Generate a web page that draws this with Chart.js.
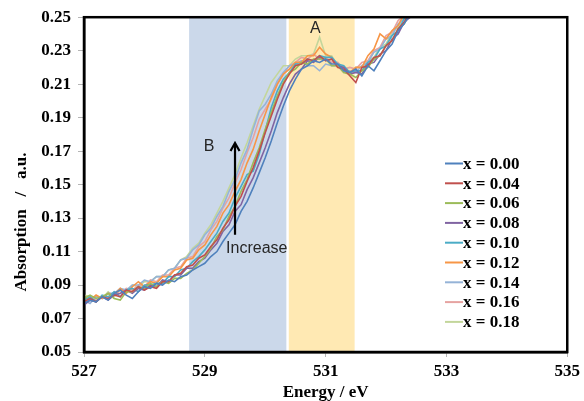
<!DOCTYPE html>
<html>
<head>
<meta charset="utf-8">
<script src="https://cdn.jsdelivr.net/npm/chart.js@4.4.1/dist/chart.umd.min.js"></script>
<style>
  html, body { margin: 0; padding: 0; background: #fff; }
  #wrap { width: 584px; height: 401px; }
</style>
</head>
<body>
<div id="wrap"><canvas id="absChart" width="584" height="401"></canvas></div>
<script>
// energy grid (eV)
const energy = [
    527.0, 527.1, 527.2, 527.3, 527.4, 527.5, 527.6, 527.7, 527.8, 527.9,
    528.0, 528.1, 528.2, 528.3, 528.4, 528.5, 528.6, 528.7, 528.8, 528.9,
    529.0, 529.1, 529.2, 529.3, 529.4, 529.5, 529.6, 529.7, 529.8, 529.9,
    530.0, 530.1, 530.2, 530.3, 530.4, 530.5, 530.6, 530.7, 530.8, 530.9,
    531.0, 531.1, 531.2, 531.3, 531.4, 531.5, 531.6, 531.7, 531.8, 531.9,
    532.0, 532.1, 532.2, 532.3, 532.4, 532.5
];

const labels = ['x = 0.00', 'x = 0.04', 'x = 0.06', 'x = 0.08', 'x = 0.10', 'x = 0.12', 'x = 0.14', 'x = 0.16', 'x = 0.18'];
const colors = ['#4F81BD', '#C0504D', '#9BBB59', '#8064A2', '#4BACC6', '#F79646', '#95B3D7', '#E6A3A1', '#C3D69B'];

const x000 = [
    0.079, 0.081, 0.080, 0.083, 0.081, 0.085, 0.087, 0.084, 0.082, 0.086,
    0.089, 0.088, 0.091, 0.090, 0.093, 0.092, 0.095, 0.096, 0.099, 0.101,
    0.103, 0.107, 0.110, 0.116, 0.121, 0.126, 0.134, 0.140, 0.148, 0.157,
    0.166, 0.176, 0.187, 0.197, 0.206, 0.213, 0.219, 0.221, 0.224, 0.223,
    0.225, 0.222, 0.222, 0.218, 0.217, 0.219, 0.215, 0.221, 0.218, 0.224,
    0.230, 0.234, 0.242, 0.246, 0.252, 0.256
];
const x004 = [
    0.080, 0.082, 0.080, 0.083, 0.082, 0.084, 0.083, 0.087, 0.086, 0.089,
    0.087, 0.089, 0.088, 0.092, 0.092, 0.096, 0.097, 0.101, 0.102, 0.106,
    0.108, 0.113, 0.117, 0.124, 0.129, 0.137, 0.143, 0.152, 0.160, 0.170,
    0.181, 0.191, 0.201, 0.210, 0.216, 0.221, 0.222, 0.225, 0.224, 0.227,
    0.224, 0.225, 0.220, 0.219, 0.215, 0.211, 0.220, 0.221, 0.226, 0.227,
    0.233, 0.236, 0.243, 0.247, 0.253, 0.257
];
const x006 = [
    0.082, 0.084, 0.082, 0.083, 0.085, 0.082, 0.081, 0.086, 0.086, 0.089,
    0.088, 0.091, 0.089, 0.092, 0.091, 0.094, 0.094, 0.097, 0.099, 0.103,
    0.107, 0.112, 0.119, 0.123, 0.131, 0.137, 0.146, 0.153, 0.163, 0.172,
    0.183, 0.193, 0.203, 0.211, 0.217, 0.219, 0.223, 0.222, 0.225, 0.225,
    0.225, 0.221, 0.221, 0.217, 0.216, 0.214, 0.218, 0.220, 0.225, 0.227,
    0.233, 0.236, 0.243, 0.246, 0.253, 0.257
];
const x008 = [
    0.078, 0.081, 0.080, 0.083, 0.081, 0.084, 0.085, 0.087, 0.085, 0.088,
    0.087, 0.090, 0.089, 0.093, 0.092, 0.096, 0.096, 0.100, 0.100, 0.104,
    0.106, 0.111, 0.115, 0.122, 0.126, 0.134, 0.138, 0.147, 0.154, 0.163,
    0.172, 0.182, 0.193, 0.202, 0.210, 0.216, 0.219, 0.224, 0.223, 0.226,
    0.224, 0.225, 0.221, 0.220, 0.216, 0.217, 0.216, 0.222, 0.223, 0.228,
    0.230, 0.237, 0.240, 0.247, 0.250, 0.256
];
const x010 = [
    0.081, 0.083, 0.080, 0.084, 0.083, 0.086, 0.083, 0.087, 0.088, 0.086,
    0.090, 0.090, 0.091, 0.091, 0.095, 0.095, 0.099, 0.100, 0.104, 0.107,
    0.111, 0.116, 0.121, 0.128, 0.133, 0.142, 0.149, 0.156, 0.158, 0.168,
    0.182, 0.196, 0.206, 0.213, 0.217, 0.222, 0.222, 0.225, 0.224, 0.227,
    0.226, 0.226, 0.222, 0.221, 0.217, 0.218, 0.218, 0.223, 0.225, 0.231,
    0.233, 0.239, 0.242, 0.249, 0.252, 0.258
];
const x012 = [
    0.083, 0.081, 0.084, 0.082, 0.085, 0.084, 0.088, 0.085, 0.089, 0.092,
    0.089, 0.092, 0.091, 0.095, 0.095, 0.099, 0.100, 0.105, 0.106, 0.111,
    0.114, 0.120, 0.125, 0.133, 0.138, 0.146, 0.153, 0.163, 0.171, 0.182,
    0.192, 0.202, 0.210, 0.216, 0.219, 0.223, 0.223, 0.227, 0.227, 0.232,
    0.228, 0.226, 0.220, 0.220, 0.217, 0.220, 0.220, 0.227, 0.231, 0.240,
    0.237, 0.242, 0.245, 0.252, 0.255, 0.260
];
const x014 = [
    0.081, 0.079, 0.083, 0.082, 0.085, 0.085, 0.088, 0.087, 0.090, 0.090,
    0.093, 0.092, 0.095, 0.095, 0.099, 0.100, 0.105, 0.106, 0.111, 0.114,
    0.120, 0.124, 0.131, 0.137, 0.146, 0.153, 0.163, 0.171, 0.183, 0.194,
    0.198, 0.204, 0.212, 0.217, 0.221, 0.222, 0.224, 0.221, 0.221, 0.218,
    0.222, 0.221, 0.221, 0.217, 0.218, 0.217, 0.221, 0.223, 0.229, 0.231,
    0.237, 0.239, 0.246, 0.249, 0.256, 0.259
];
const x016 = [
    0.080, 0.082, 0.081, 0.083, 0.082, 0.086, 0.085, 0.088, 0.087, 0.090,
    0.089, 0.093, 0.092, 0.096, 0.096, 0.100, 0.101, 0.106, 0.107, 0.113,
    0.116, 0.123, 0.128, 0.136, 0.142, 0.151, 0.159, 0.169, 0.178, 0.189,
    0.195, 0.201, 0.210, 0.216, 0.221, 0.223, 0.226, 0.225, 0.228, 0.225,
    0.226, 0.223, 0.223, 0.219, 0.220, 0.219, 0.223, 0.224, 0.230, 0.232,
    0.239, 0.241, 0.248, 0.251, 0.258, 0.261
];
const x018 = [
    0.084, 0.083, 0.083, 0.082, 0.086, 0.083, 0.087, 0.086, 0.090, 0.089,
    0.092, 0.092, 0.095, 0.095, 0.099, 0.100, 0.105, 0.107, 0.112, 0.115,
    0.121, 0.126, 0.133, 0.140, 0.148, 0.156, 0.166, 0.175, 0.185, 0.195,
    0.203, 0.211, 0.216, 0.221, 0.221, 0.225, 0.227, 0.227, 0.228, 0.238,
    0.227, 0.227, 0.221, 0.220, 0.216, 0.220, 0.220, 0.224, 0.226, 0.232,
    0.234, 0.241, 0.244, 0.251, 0.254, 0.260
];
const series = [x000, x004, x006, x008, x010, x012, x014, x016, x018];

// shaded energy windows
const bands = [
    { from: 528.74, to: 530.35, color: '#CBD8EA' },
    { from: 530.39, to: 531.48, color: '#FFE9B3' }
];

document.addEventListener('DOMContentLoaded', () => {
    Chart.defaults.font.family = '"Liberation Serif", "Times New Roman", serif';
    Chart.defaults.color = '#000';

    const decor = {
        id: 'decor',
        beforeDatasetsDraw(chart) {
            const { ctx, chartArea: a, scales: { x } } = chart;
            ctx.save();
            bands.forEach(b => {
                const x0 = x.getPixelForValue(b.from);
                const x1 = x.getPixelForValue(b.to);
                ctx.fillStyle = b.color;
                ctx.fillRect(x0, a.top, x1 - x0, a.bottom - a.top);
            });
            ctx.restore();
        },
        afterDatasetsDraw(chart) {
            const { ctx, chartArea: a, scales: { x, y } } = chart;
            ctx.save();

            // frame
            ctx.strokeStyle = '#000';
            ctx.lineWidth = 2.5;
            ctx.strokeRect(a.left, a.top, a.right - a.left, a.bottom - a.top);

            // arrow
            const ax = x.getPixelForValue(529.5);
            const ay0 = y.getPixelForValue(0.120);
            const ay1 = y.getPixelForValue(0.1748);
            ctx.lineWidth = 2.2;
            ctx.beginPath();
            ctx.moveTo(ax, ay0);
            ctx.lineTo(ax, ay1);
            ctx.moveTo(ax - 4.5, ay1 + 8);
            ctx.lineTo(ax, ay1);
            ctx.lineTo(ax + 4.5, ay1 + 8);
            ctx.stroke();

            // annotations
            ctx.fillStyle = '#262626';
            ctx.font = '16px "Liberation Sans", Arial, sans-serif';
            ctx.textAlign = 'center';
            ctx.textBaseline = 'middle';
            ctx.fillText('A', x.getPixelForValue(530.83), y.getPixelForValue(0.2432));
            ctx.fillText('B', x.getPixelForValue(529.07), y.getPixelForValue(0.1730));
            ctx.fillText('Increase', x.getPixelForValue(529.86), y.getPixelForValue(0.1115));

            // legend
            ctx.font = 'bold 17px "Liberation Serif", serif';
            ctx.textAlign = 'left';
            chart.data.datasets.forEach((ds, i) => {
                const ry = 163.5 + i * 19.8;
                ctx.strokeStyle = ds.borderColor;
                ctx.lineWidth = 2;
                ctx.beginPath();
                ctx.moveTo(445, ry);
                ctx.lineTo(463, ry);
                ctx.stroke();
                ctx.fillStyle = '#000';
                ctx.fillText(ds.label, 463, ry + 1);
            });

            // axis titles
            ctx.font = 'bold 17px "Liberation Serif", serif';
            ctx.textAlign = 'center';
            ctx.textBaseline = 'alphabetic';
            ctx.fillText('Energy / eV', (a.left + a.right) / 2, 397);
            ctx.translate(26, 222);
            ctx.rotate(-Math.PI / 2);
            ctx.fillText('Absorption   /   a.u.', 0, 0);
            ctx.restore();
        }
    };

    const ctx = document.getElementById('absChart').getContext('2d');
    new Chart(ctx, {
        type: 'line',
        data: {
            datasets: series.map((vals, i) => ({
                label: labels[i],
                data: energy.map((e, j) => ({ x: e, y: vals[j] })),
                borderColor: colors[i],
                backgroundColor: colors[i],
                borderWidth: 1.6,
                pointRadius: 0,
                tension: 0,
                fill: false
            }))
        },
        options: {
            responsive: false,
            animation: false,
            layout: { padding: { top: 17, right: 13, left: 0, bottom: 0 } },
            plugins: {
                legend: { display: false },
                tooltip: { enabled: false }
            },
            scales: {
                x: {
                    type: 'linear',
                    min: 527,
                    max: 535,
                    afterFit: s => { s.height = 49; },
                    ticks: {
                        stepSize: 2,
                        padding: 4,
                        font: { size: 17, weight: 'bold' },
                        callback: v => v.toFixed(0)
                    },
                    grid: { drawOnChartArea: false, tickLength: 5, color: '#b5b5b5' },
                    border: { color: '#000', width: 2.5 }
                },
                y: {
                    min: 0.05,
                    max: 0.25,
                    afterFit: s => { s.width = 84; },
                    ticks: {
                        stepSize: 0.02,
                        padding: 7,
                        font: { size: 17, weight: 'bold' },
                        callback: v => v.toFixed(2)
                    },
                    grid: { drawOnChartArea: false, tickLength: 6, color: '#b5b5b5' },
                    border: { color: '#000', width: 2.5 }
                }
            }
        },
        plugins: [decor]
    });
});
</script>
</body>
</html>
